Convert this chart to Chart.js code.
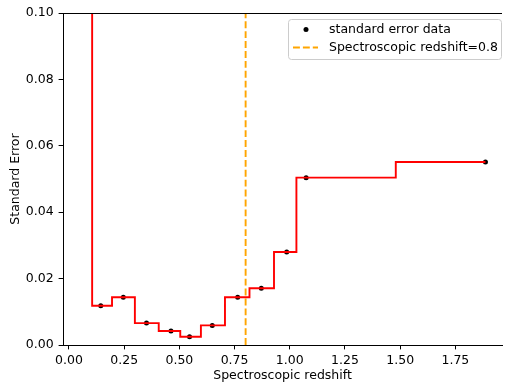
<!DOCTYPE html>
<html>
<head>
<meta charset="utf-8">
<script src="https://cdn.jsdelivr.net/npm/chart.js@4"></script>
<style>
  html, body { margin: 0; padding: 0; background: #fff; }
  canvas { display: block; }
</style>
</head>
<body>
<canvas id="chart" width="506" height="382"></canvas>
<script>
// values (first point sits above the visible range)
const redshift = [0.066, 0.144, 0.246, 0.351, 0.462, 0.546, 0.649, 0.764, 0.871, 0.986, 1.074, 1.886];
const stdError = [0.25, 0.0118, 0.0144, 0.0066, 0.0042, 0.0025, 0.0059, 0.0144, 0.0171, 0.0280, 0.0504, 0.0551];
const cutRedshift = 0.8;
const xTicks = [0, 0.25, 0.5, 0.75, 1.0, 1.25, 1.5, 1.75];
const yTicks = [0, 0.02, 0.04, 0.06, 0.08, 0.10];

const FONT = { family: 'DejaVu Sans', size: 12.5 };
const points = redshift.map((x, i) => ({ x, y: stdError[i] }));

// matplotlib-style legend box in the upper right + top spine
const extras = {
  id: 'extras',
  afterDraw(chart) {
    const { ctx, chartArea: a } = chart;
    ctx.save();
    // top spine
    ctx.strokeStyle = '#000';
    ctx.lineWidth = 1;
    ctx.beginPath();
    ctx.moveTo(a.left, a.top + 0.5);
    ctx.lineTo(a.right, a.top + 0.5);
    ctx.stroke();

    // legend
    const bx = 288.5, by = 19.5, bw = 213, bh = 40, r = 3;
    ctx.beginPath();
    ctx.moveTo(bx + r, by);
    ctx.arcTo(bx + bw, by, bx + bw, by + bh, r);
    ctx.arcTo(bx + bw, by + bh, bx, by + bh, r);
    ctx.arcTo(bx, by + bh, bx, by, r);
    ctx.arcTo(bx, by, bx + bw, by, r);
    ctx.closePath();
    ctx.fillStyle = 'rgba(255,255,255,0.8)';
    ctx.fill();
    ctx.strokeStyle = '#cccccc';
    ctx.stroke();

    const ds = chart.data.datasets;
    ctx.font = `${FONT.size}px ${FONT.family}`;
    ctx.textBaseline = 'middle';
    ctx.fillStyle = '#000';
    // row 1: dot marker
    ctx.beginPath();
    ctx.arc(306, 29.5, ds[1].pointRadius, 0, Math.PI * 2);
    ctx.fill();
    ctx.fillText(ds[1].label, 329, 29.5);
    // row 2: dashed line
    ctx.strokeStyle = ds[2].borderColor;
    ctx.lineWidth = ds[2].borderWidth;
    ctx.setLineDash(ds[2].borderDash);
    ctx.beginPath();
    ctx.moveTo(293, 47.5);
    ctx.lineTo(318, 47.5);
    ctx.stroke();
    ctx.setLineDash([]);
    ctx.fillStyle = '#000';
    ctx.fillText(ds[2].label, 329, 47.5);
    ctx.restore();
  }
};

new Chart(document.getElementById('chart'), {
  type: 'line',
  data: {
    datasets: [
      {
        label: 'step',
        data: points,
        stepped: 'middle',
        borderColor: '#ff0000',
        borderWidth: 1.9,
        pointRadius: 0,
        fill: false
      },
      {
        label: 'standard error data',
        type: 'scatter',
        data: points,
        showLine: false,
        pointRadius: 2.5,
        pointBackgroundColor: '#000',
        pointBorderWidth: 0
      },
      {
        label: 'Spectroscopic redshift=0.8',
        data: [{ x: cutRedshift, y: yTicks[0] }, { x: cutRedshift, y: yTicks[yTicks.length - 1] }],
        borderColor: '#ffa500',
        borderWidth: 1.9,
        borderDash: [6.9, 3],
        pointRadius: 0,
        fill: false
      }
    ]
  },
  options: {
    responsive: false,
    animation: false,
    events: [],
    layout: { padding: { top: 13, right: 0, left: 0, bottom: 0 } },
    plugins: { legend: { display: false }, tooltip: { enabled: false } },
    scales: {
      x: {
        type: 'linear',
        min: -0.027,
        max: 1.961,
        afterBuildTicks: s => { s.ticks = xTicks.map(v => ({ value: v })); },
        afterFit: s => { s.height = 37; },
        ticks: {
          font: FONT, color: '#000', padding: 3.6, maxRotation: 0,
          callback: v => v.toFixed(2)
        },
        grid: { drawOnChartArea: false, drawTicks: true, tickLength: 4.4, tickColor: '#000' },
        border: { display: true, color: '#000', width: 1 },
        title: {
          display: true, text: 'Spectroscopic redshift', color: '#000',
          font: { family: 'DejaVu Sans', size: 12.5, lineHeight: 1 }, padding: 0
        }
      },
      y: {
        type: 'linear',
        min: 0,
        max: 0.1,
        afterBuildTicks: s => { s.ticks = yTicks.map(v => ({ value: v })); },
        afterFit: s => { s.width = 63; },
        ticks: {
          font: FONT, color: '#000', padding: 5,
          callback: v => v.toFixed(2)
        },
        grid: { drawOnChartArea: false, drawTicks: true, tickLength: 4.4, tickColor: '#000' },
        border: { display: true, color: '#000', width: 1 },
        title: {
          display: true, text: 'Standard Error', color: '#000',
          font: FONT, padding: { top: 7.9, bottom: 0 }
        }
      }
    }
  },
  plugins: [extras]
});
</script>
</body>
</html>
